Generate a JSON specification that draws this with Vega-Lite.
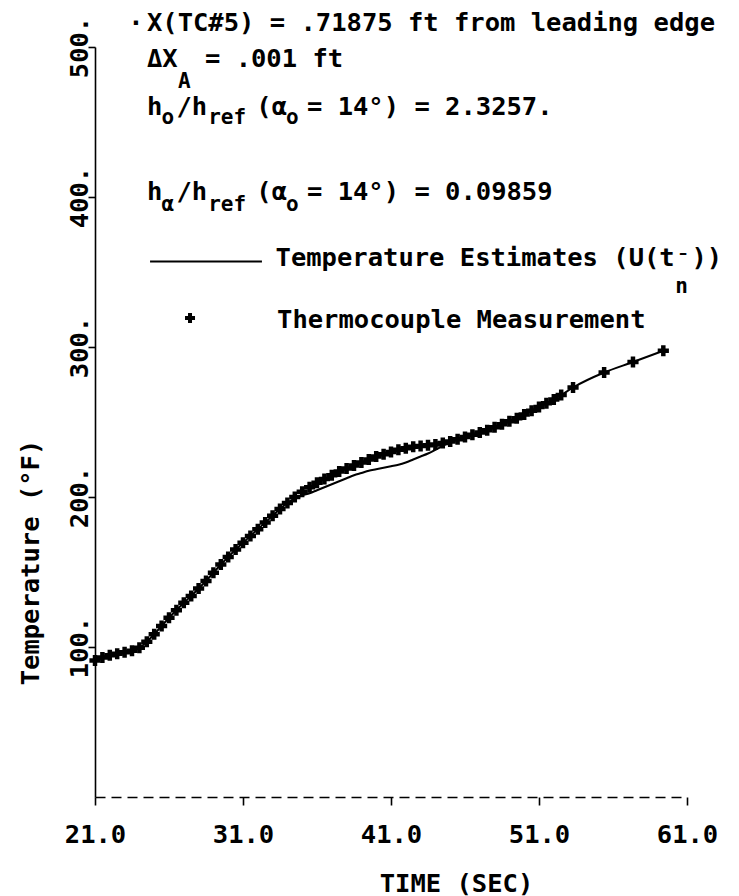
{
  "$schema": "https://vega.github.io/schema/vega-lite/v6.json",
  "width": 592,
  "height": 750,
  "autosize": {"type": "none"},
  "padding": {"left": 95, "top": 47, "right": 52, "bottom": 99},
  "background": "white",
  "config": {
    "view": {"stroke": null},
    "font": "DejaVu Sans Mono",
    "axis": {
      "labelFont": "DejaVu Sans Mono",
      "titleFont": "DejaVu Sans Mono",
      "labelFontSize": 25.5,
      "titleFontSize": 25.5,
      "labelFontWeight": "bold",
      "titleFontWeight": "bold",
      "labelColor": "black",
      "titleColor": "black",
      "domainColor": "black",
      "tickColor": "black",
      "domainWidth": 1.6,
      "tickWidth": 1.6,
      "grid": false
    }
  },
  "datasets": {
    "series": [
      {"time": 21.0, "temp": 91, "series": "measured"},
      {"time": 21.5, "temp": 93, "series": "measured"},
      {"time": 22.0, "temp": 94.5, "series": "measured"},
      {"time": 22.5, "temp": 95.5, "series": "measured"},
      {"time": 23.0, "temp": 96.5, "series": "measured"},
      {"time": 23.5, "temp": 97.5, "series": "measured"},
      {"time": 24.0, "temp": 99.5, "series": "measured"},
      {"time": 24.5, "temp": 103.5, "series": "measured"},
      {"time": 25.0, "temp": 108.5, "series": "measured"},
      {"time": 25.5, "temp": 114, "series": "measured"},
      {"time": 26.0, "temp": 119.5, "series": "measured"},
      {"time": 26.5, "temp": 124.5, "series": "measured"},
      {"time": 27.0, "temp": 129.5, "series": "measured"},
      {"time": 27.5, "temp": 134, "series": "measured"},
      {"time": 28.0, "temp": 139, "series": "measured"},
      {"time": 28.5, "temp": 144, "series": "measured"},
      {"time": 29.0, "temp": 149.5, "series": "measured"},
      {"time": 29.5, "temp": 155, "series": "measured"},
      {"time": 30.0, "temp": 160, "series": "measured"},
      {"time": 30.5, "temp": 165, "series": "measured"},
      {"time": 31.0, "temp": 169.5, "series": "measured"},
      {"time": 31.5, "temp": 174, "series": "measured"},
      {"time": 32.0, "temp": 178.5, "series": "measured"},
      {"time": 32.5, "temp": 183, "series": "measured"},
      {"time": 33.0, "temp": 187.5, "series": "measured"},
      {"time": 33.5, "temp": 192, "series": "measured"},
      {"time": 34.0, "temp": 196, "series": "measured"},
      {"time": 34.5, "temp": 200, "series": "measured"},
      {"time": 35.0, "temp": 203.5, "series": "measured"},
      {"time": 35.5, "temp": 206.5, "series": "measured"},
      {"time": 36.0, "temp": 209.5, "series": "measured"},
      {"time": 36.5, "temp": 212, "series": "measured"},
      {"time": 37.0, "temp": 214.5, "series": "measured"},
      {"time": 37.5, "temp": 217, "series": "measured"},
      {"time": 38.0, "temp": 219, "series": "measured"},
      {"time": 38.5, "temp": 221, "series": "measured"},
      {"time": 39.0, "temp": 223, "series": "measured"},
      {"time": 39.5, "temp": 225, "series": "measured"},
      {"time": 40.0, "temp": 227, "series": "measured"},
      {"time": 40.5, "temp": 228.5, "series": "measured"},
      {"time": 41.0, "temp": 230, "series": "measured"},
      {"time": 41.5, "temp": 231.5, "series": "measured"},
      {"time": 42.0, "temp": 232.5, "series": "measured"},
      {"time": 42.5, "temp": 233.5, "series": "measured"},
      {"time": 43.0, "temp": 234, "series": "measured"},
      {"time": 43.5, "temp": 234.5, "series": "measured"},
      {"time": 44.0, "temp": 235, "series": "measured"},
      {"time": 44.5, "temp": 236, "series": "measured"},
      {"time": 45.0, "temp": 237, "series": "measured"},
      {"time": 45.5, "temp": 238.5, "series": "measured"},
      {"time": 46.0, "temp": 240, "series": "measured"},
      {"time": 46.5, "temp": 241.5, "series": "measured"},
      {"time": 47.0, "temp": 243, "series": "measured"},
      {"time": 47.5, "temp": 244.5, "series": "measured"},
      {"time": 48.0, "temp": 246.5, "series": "measured"},
      {"time": 48.5, "temp": 248.5, "series": "measured"},
      {"time": 49.0, "temp": 250.5, "series": "measured"},
      {"time": 49.5, "temp": 252.5, "series": "measured"},
      {"time": 50.0, "temp": 255, "series": "measured"},
      {"time": 50.5, "temp": 257.5, "series": "measured"},
      {"time": 51.0, "temp": 260, "series": "measured"},
      {"time": 51.5, "temp": 262.5, "series": "measured"},
      {"time": 52.0, "temp": 265, "series": "measured"},
      {"time": 52.5, "temp": 268, "series": "measured"},
      {"time": 53.3, "temp": 273, "series": "measured"},
      {"time": 55.4, "temp": 283, "series": "measured"},
      {"time": 57.35, "temp": 290, "series": "measured"},
      {"time": 59.4, "temp": 297.5, "series": "measured"},
      {"time": 21.0, "temp": 91, "series": "estimate"},
      {"time": 21.5, "temp": 93, "series": "estimate"},
      {"time": 22.0, "temp": 94.5, "series": "estimate"},
      {"time": 22.5, "temp": 95.5, "series": "estimate"},
      {"time": 23.0, "temp": 96.5, "series": "estimate"},
      {"time": 23.5, "temp": 97.5, "series": "estimate"},
      {"time": 24.0, "temp": 99.5, "series": "estimate"},
      {"time": 24.5, "temp": 103.5, "series": "estimate"},
      {"time": 25.0, "temp": 108.5, "series": "estimate"},
      {"time": 25.5, "temp": 114, "series": "estimate"},
      {"time": 26.0, "temp": 119.5, "series": "estimate"},
      {"time": 26.5, "temp": 124.5, "series": "estimate"},
      {"time": 27.0, "temp": 129.5, "series": "estimate"},
      {"time": 27.5, "temp": 134, "series": "estimate"},
      {"time": 28.0, "temp": 139, "series": "estimate"},
      {"time": 28.5, "temp": 144, "series": "estimate"},
      {"time": 29.0, "temp": 149.5, "series": "estimate"},
      {"time": 29.5, "temp": 155, "series": "estimate"},
      {"time": 30.0, "temp": 160, "series": "estimate"},
      {"time": 30.5, "temp": 165, "series": "estimate"},
      {"time": 31.0, "temp": 169.5, "series": "estimate"},
      {"time": 31.5, "temp": 174, "series": "estimate"},
      {"time": 32.0, "temp": 178.5, "series": "estimate"},
      {"time": 32.5, "temp": 183, "series": "estimate"},
      {"time": 33.0, "temp": 187.5, "series": "estimate"},
      {"time": 33.5, "temp": 192, "series": "estimate"},
      {"time": 34.0, "temp": 196, "series": "estimate"},
      {"time": 34.5, "temp": 199, "series": "estimate"},
      {"time": 35.0, "temp": 201, "series": "estimate"},
      {"time": 35.5, "temp": 202.5, "series": "estimate"},
      {"time": 36.0, "temp": 204.5, "series": "estimate"},
      {"time": 36.5, "temp": 206.5, "series": "estimate"},
      {"time": 37.0, "temp": 208.5, "series": "estimate"},
      {"time": 37.5, "temp": 210.5, "series": "estimate"},
      {"time": 38.0, "temp": 212.5, "series": "estimate"},
      {"time": 38.5, "temp": 214.5, "series": "estimate"},
      {"time": 39.0, "temp": 216, "series": "estimate"},
      {"time": 39.5, "temp": 217.5, "series": "estimate"},
      {"time": 40.0, "temp": 218.5, "series": "estimate"},
      {"time": 40.5, "temp": 219.5, "series": "estimate"},
      {"time": 41.0, "temp": 220.5, "series": "estimate"},
      {"time": 41.5, "temp": 221.5, "series": "estimate"},
      {"time": 42.0, "temp": 223, "series": "estimate"},
      {"time": 42.5, "temp": 225, "series": "estimate"},
      {"time": 43.0, "temp": 227, "series": "estimate"},
      {"time": 43.5, "temp": 229, "series": "estimate"},
      {"time": 44.0, "temp": 231.5, "series": "estimate"},
      {"time": 44.5, "temp": 234, "series": "estimate"},
      {"time": 45.0, "temp": 236.5, "series": "estimate"},
      {"time": 45.5, "temp": 238.5, "series": "estimate"},
      {"time": 46.0, "temp": 240, "series": "estimate"},
      {"time": 46.5, "temp": 241.5, "series": "estimate"},
      {"time": 47.0, "temp": 243, "series": "estimate"},
      {"time": 47.5, "temp": 244.5, "series": "estimate"},
      {"time": 48.0, "temp": 246.5, "series": "estimate"},
      {"time": 48.5, "temp": 248.5, "series": "estimate"},
      {"time": 49.0, "temp": 250.5, "series": "estimate"},
      {"time": 49.5, "temp": 252.5, "series": "estimate"},
      {"time": 50.0, "temp": 255, "series": "estimate"},
      {"time": 50.5, "temp": 257.5, "series": "estimate"},
      {"time": 51.0, "temp": 260, "series": "estimate"},
      {"time": 51.5, "temp": 262.5, "series": "estimate"},
      {"time": 52.0, "temp": 265, "series": "estimate"},
      {"time": 52.5, "temp": 268, "series": "estimate"},
      {"time": 53.3, "temp": 273, "series": "estimate"},
      {"time": 55.4, "temp": 283, "series": "estimate"},
      {"time": 57.35, "temp": 290, "series": "estimate"},
      {"time": 59.4, "temp": 297.5, "series": "estimate"}
    ],
    "notes": [
      {"time": 23.25, "temp": 510.7, "text": "·", "size": "big"},
      {"time": 24.51, "temp": 510.7, "text": "X(TC#5) = .71875 ft from leading edge", "size": "big"},
      {"time": 24.51, "temp": 486.7, "text": "ΔX", "size": "big"},
      {"time": 26.61, "temp": 472.7, "text": "A", "size": "small"},
      {"time": 28.43, "temp": 486.7, "text": "= .001 ft", "size": "big"},
      {"time": 24.51, "temp": 454.7, "text": "h", "size": "big"},
      {"time": 25.5, "temp": 448.7, "text": "o", "size": "small"},
      {"time": 26.5, "temp": 454.7, "text": "/h", "size": "big"},
      {"time": 28.65, "temp": 448.7, "text": "ref", "size": "small"},
      {"time": 31.9, "temp": 454.7, "text": "(α", "size": "big"},
      {"time": 33.9, "temp": 448.7, "text": "o", "size": "small"},
      {"time": 35.32, "temp": 454.7, "text": "= 14°) = 2.3257.", "size": "big"},
      {"time": 24.51, "temp": 398, "text": "h", "size": "big"},
      {"time": 25.5, "temp": 390.7, "text": "α", "size": "small"},
      {"time": 26.5, "temp": 398, "text": "/h", "size": "big"},
      {"time": 28.65, "temp": 390.7, "text": "ref", "size": "small"},
      {"time": 31.9, "temp": 398, "text": "(α", "size": "big"},
      {"time": 33.9, "temp": 390.7, "text": "o", "size": "small"},
      {"time": 35.32, "temp": 398, "text": "= 14°) = 0.09859", "size": "big"},
      {"time": 33.2, "temp": 354, "text": "Temperature Estimates (U(t", "size": "big"},
      {"time": 60.2, "temp": 336, "text": "n", "size": "small"},
      {"time": 60.3, "temp": 352, "text": "¯", "size": "small"},
      {"time": 61.3, "temp": 354, "text": "))", "size": "big"},
      {"time": 33.3, "temp": 312.7, "text": "Thermocouple Measurement", "size": "big"}
    ],
    "legendline": [
      {"time": 24.72, "time2": 32.28, "temp": 357}
    ],
    "legendmark": [
      {"time": 27.42, "temp": 319.3}
    ]
  },
  "encoding": {
    "x": {
      "field": "time",
      "type": "quantitative",
      "scale": {"domain": [21, 61], "nice": false, "zero": false},
      "axis": {
        "title": "TIME (SEC)",
        "values": [21, 31, 41, 51, 61],
        "format": ".1f",
        "tickSize": 8,
        "labelPadding": 37,
        "labelBaseline": "alphabetic",
        "labelAlign": "center",
        "domainDash": [10, 6],
        "titleX": 361,
        "titleY": 94,
        "titleAlign": "center",
        "titleBaseline": "alphabetic",
        "labelFlush": false,
        "labelOverlap": false
      }
    },
    "y": {
      "field": "temp",
      "type": "quantitative",
      "scale": {"domain": [0, 500], "nice": false, "zero": true},
      "axis": {
        "title": "Temperature (°F)",
        "values": [100, 200, 300, 400, 500],
        "labelExpr": "format(datum.value, 'd') + '.'",
        "tickSize": 7,
        "labelAngle": -90,
        "labelAlign": "center",
        "labelBaseline": "alphabetic",
        "labelPadding": 1,
        "titleAngle": -90,
        "titleX": -57,
        "titleY": 515,
        "titleAlign": "center",
        "titleBaseline": "alphabetic",
        "labelFlush": false,
        "labelOverlap": false
      }
    }
  },
  "layer": [
    {
      "data": {"name": "series"},
      "transform": [{"filter": "datum.series === 'estimate'"}],
      "mark": {"type": "line", "color": "black", "strokeWidth": 2, "interpolate": "monotone"}
    },
    {
      "data": {"name": "series"},
      "transform": [{"filter": "datum.series === 'measured'"}],
      "mark": {"type": "point", "shape": "cross", "filled": true, "color": "black", "size": 125, "opacity": 1}
    },
    {
      "data": {"name": "legendline"},
      "mark": {"type": "rule", "color": "black", "strokeWidth": 1.8},
      "encoding": {"x2": {"field": "time2"}}
    },
    {
      "data": {"name": "legendmark"},
      "mark": {"type": "point", "shape": "cross", "filled": true, "color": "black", "size": 100, "opacity": 1}
    },
    {
      "data": {"name": "notes"},
      "transform": [{"filter": "datum.size === 'big'"}],
      "mark": {"type": "text", "font": "DejaVu Sans Mono", "fontSize": 25.5, "fontWeight": "bold", "align": "left", "baseline": "alphabetic", "color": "black"},
      "encoding": {"text": {"field": "text"}}
    },
    {
      "data": {"name": "notes"},
      "transform": [{"filter": "datum.size === 'small'"}],
      "mark": {"type": "text", "font": "DejaVu Sans Mono", "fontSize": 21, "fontWeight": "bold", "align": "left", "baseline": "alphabetic", "color": "black"},
      "encoding": {"text": {"field": "text"}}
    }
  ]
}
